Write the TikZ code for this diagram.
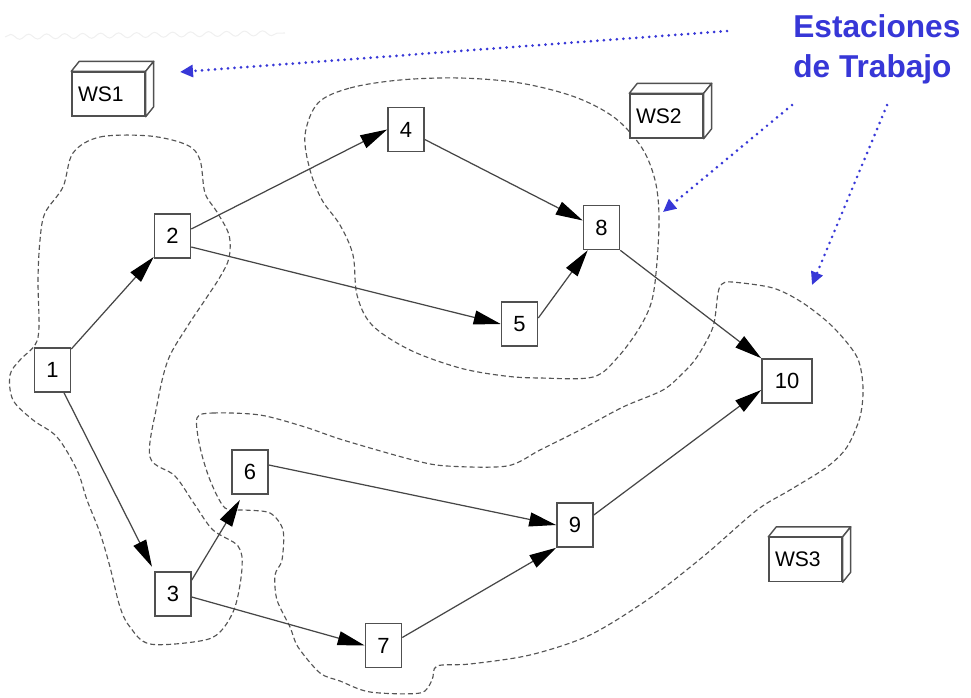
\documentclass[tikz,border=0pt]{standalone}
\usepackage{fontspec}
\setmainfont{Liberation Sans}
\usetikzlibrary{arrows.meta,calc,decorations.pathmorphing}
\definecolor{estblue}{RGB}{55,55,215}
\definecolor{linegray}{RGB}{70,70,70}
\definecolor{boxgray}{RGB}{80,80,80}
\definecolor{cloudgray}{RGB}{85,85,85}
\begin{document}
\begin{tikzpicture}[x=0.02cm,y=-0.02cm,
  task/.style={draw=boxgray, line width=0.9pt, fill=white, minimum width=0.72cm, minimum height=0.88cm, inner sep=0pt, font=\fontsize{12.5}{14}\selectfont},
  wsface/.style={draw=boxgray, line width=0.8pt, fill=white, minimum width=1.46cm, minimum height=0.88cm, inner xsep=0.12cm, inner ysep=0pt, text width=1.22cm, align=left, font=\fontsize{12}{14}\selectfont},
  wsside/.style={draw=boxgray, line width=0.8pt, fill=white, line join=round},
  flow/.style={draw=linegray, line width=0.7pt, -{Triangle[length=0.54cm,width=0.28cm,black]}},
  cloud/.style={draw=cloudgray, line width=0.65pt, dash pattern=on 0.1cm off 0.06cm},
  bluearrow/.style={draw=estblue, line width=1.7pt, line cap=round, dash pattern=on 0pt off 0.13cm, -{Triangle[length=0.26cm,width=0.24cm]}},
  title/.style={text=estblue, font=\bfseries\fontsize{18}{22}\selectfont, inner sep=0pt, anchor=base west}
]
\useasboundingbox (0,0) rectangle (971,697);

% faint scribble
\draw[gray!12, line width=0.6pt, decorate, decoration={snake, amplitude=0.05cm, segment length=0.36cm}] (5,37) -- (285,33);

% clouds (work stations)
\draw[cloud] plot[smooth cycle, tension=0.55] coordinates {
 (73,153) (100,137) (150,136) (187,145) (200,160) (205,193) (217,212) (229,235)
 (229,258) (220,277) (205,300) (187,327) (168,360) (157,405) (150,457) (175,476)
 (195,505) (213,530) (238,546) (242,568) (235,607) (220,632) (200,641) (150,644)
 (130,627) (120,607) (110,567) (100,533) (87,500) (77,470) (57,437) (33,420)
 (13,400) (10,375) (20,360) (35,345) (39,327) (38,280) (40,240) (45,213) (63,187)};

\draw[cloud] plot[smooth cycle, tension=0.55] coordinates {
 (318,103) (350,88) (400,80) (460,78) (520,83) (575,97) (615,118) (642,148)
 (655,180) (659,215) (657,262) (652,300) (640,327) (618,357) (593,377) (540,378)
 (505,376) (460,368) (410,350) (372,325) (357,295) (353,255) (340,225) (322,200)
 (310,170) (305,135)};

\draw[cloud] plot[smooth cycle, tension=0.5] coordinates {
 (197,418) (213,413) (260,415) (305,427) (343,440) (413,460) (447,466) (507,466)
 (540,450) (580,430) (623,407) (663,390) (683,373) (697,357) (713,327) (718,293)
 (722,284) (732,282) (773,288) (803,303) (833,327) (857,357) (863,387) (860,417)
 (847,447) (827,467) (790,490) (757,510) (705,555) (650,598) (590,635) (530,655)
 (470,664) (437,666) (432,680) (420,693) (370,692) (340,681) (320,673) (298,647)
 (290,627) (277,600) (275,575) (282,560) (283,530) (270,513) (245,510) (225,508)
 (210,480) (200,447)};

% tasks
\node[task] (n1) at (52.5,370) {1};
\node[task] (n2) at (172.5,236) {2};
\node[task] (n3) at (173,594) {3};
\node[task] (n4) at (406,129.5) {4};
\node[task] (n5) at (519.5,324) {5};
\node[task] (n6) at (250,472) {6};
\node[task] (n7) at (383.5,645.5) {7};
\node[task] (n8) at (601.5,227.5) {8};
\node[task] (n9) at (575,525) {9};
\node[task, minimum width=1.0cm] (n10) at (787,381) {10};

% precedence arrows
\draw[flow] (n1) -- (n2);
\draw[flow, shorten >=0.1cm] (n1) -- (n3.north west);
\draw[flow] ($(n2.east)+(0,-7)$) -- (n4.west);
\draw[flow] ($(n2.east)+(0,11)$) -- (n5.west);
\draw[flow, shorten >=0.12cm] ($(n3.east)+(0,-14)$) -- ($(n6.south)+(-7,0)$);
\draw[flow] ($(n3.east)+(0,3)$) -- (n7.west);
\draw[flow] ($(n4.east)+(0,10)$) -- ($(n8.west)+(0,-7)$);
\draw[flow] ($(n5.east)+(0,-6)$) -- ($(n8.south west)+(5,0)$);
\draw[flow] ($(n6.east)+(0,-7)$) -- (n9.west);
\draw[flow] ($(n7.east)+(0,-8)$) -- (n9.south west);
\draw[flow] (n8.south east) -- (n10.north west);
\draw[flow] ($(n9.east)+(0,-10)$) -- ($(n10.west)+(0,9)$);

% work station boxes
\foreach \w/\px/\py/\lab in {ws1/108.5/94/WS1, ws2/666.5/116/WS2, ws3/805.5/559.5/WS3}{
  \node[wsface] (\w) at (\px,\py) {\lab};
  \draw[wsside] (\w.north west) -- ++(8,-10) -- ($(\w.north east)+(8,-10)$) -- (\w.north east) -- cycle;
  \draw[wsside] (\w.north east) -- ($(\w.north east)+(8,-10)$) -- ($(\w.south east)+(8,-10)$) -- (\w.south east) -- cycle;
}

% title
\node[title] (est1) at (793,37) {Estaciones};
\node[title] (est2) at (793,77) {de Trabajo};

\coordinate (b1s) at (727,31);
\coordinate (b1e) at (180,72);
\coordinate (b2s) at (792,105);
\coordinate (b2e) at (663,212);
\coordinate (b3s) at (887,105);
\coordinate (b3e) at (812,285);
\draw[bluearrow] (b1s) -- (b1e);
\draw[bluearrow] (b2s) -- (b2e);
\draw[bluearrow] (b3s) -- (b3e);
\end{tikzpicture}
\end{document}
